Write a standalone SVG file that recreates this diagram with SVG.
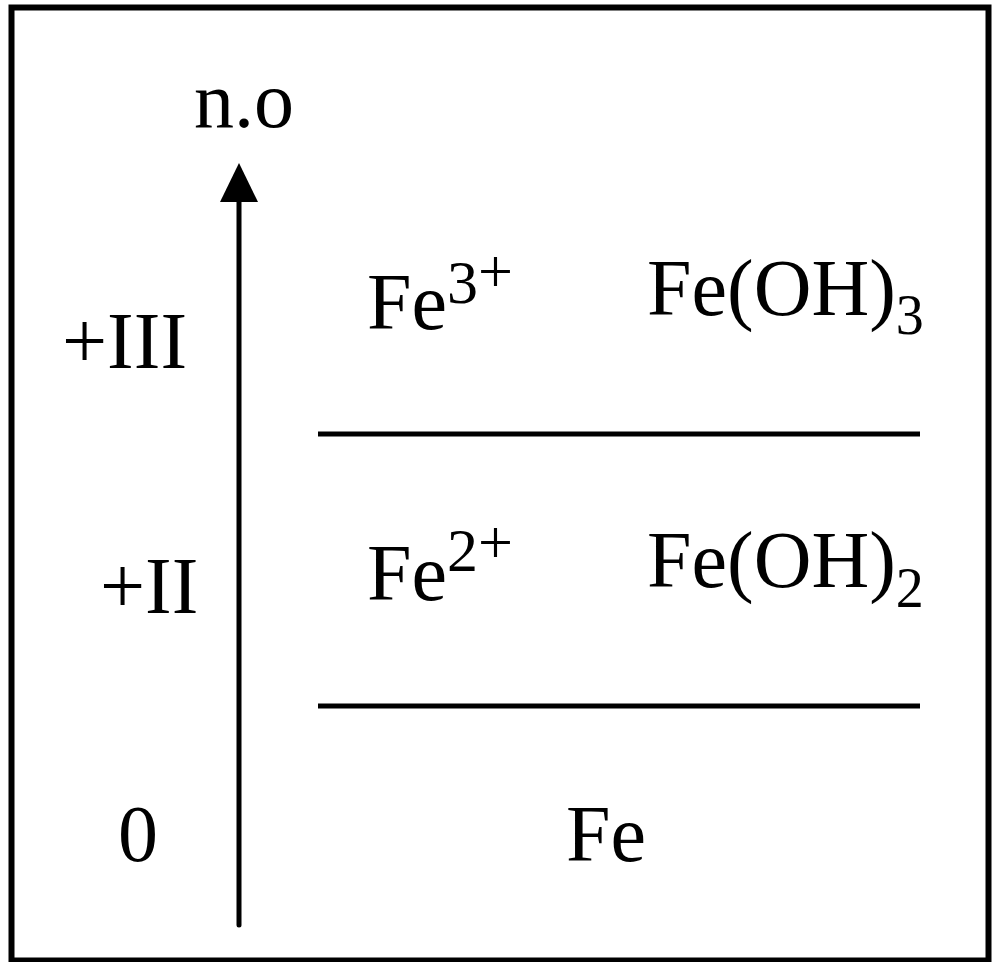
<svg xmlns="http://www.w3.org/2000/svg" width="992" height="962" viewBox="0 0 992 962">
<style>
text{font-family:"Liberation Serif","Times New Roman",serif;font-size:80px;fill:#000}
.sup{font-size:62px}
.sub{font-size:56px}
.ln{stroke:#000;stroke-width:5;fill:none}
</style>
<rect x="11.5" y="7.5" width="977" height="953" fill="#fff" stroke="#000" stroke-width="6"/>
<g id="connectors">
<line class="ln" x1="239" y1="925" x2="239" y2="200" stroke-width="6" stroke-linecap="round"/>
<path d="M220,202 L239,163 L258,202 Z" fill="#000"/>
<line class="ln" x1="318" y1="434" x2="920" y2="434"/>
<line class="ln" x1="318" y1="706" x2="920" y2="706"/>
</g>
<g id="axis-label"><text x="194" y="127">n.o</text></g>
<g id="level-III"><text x="62" y="368">+III</text></g>
<g id="level-II"><text x="100" y="613">+II</text></g>
<g id="level-0"><text x="118" y="861">0</text></g>
<g id="fe3"><text x="367" y="329">Fe<tspan class="sup" dy="-26">3</tspan><tspan class="sup" dy="-11">+</tspan></text></g>
<g id="feoh3"><text x="647" y="315">Fe(OH)<tspan class="sub" dy="19">3</tspan></text></g>
<g id="fe2"><text x="367" y="600">Fe<tspan class="sup" dy="-29">2</tspan><tspan class="sup" dy="-8">+</tspan></text></g>
<g id="feoh2"><text x="647" y="587">Fe(OH)<tspan class="sub" dy="20">2</tspan></text></g>
<g id="fe"><text x="566" y="861">Fe</text></g>
</svg>
